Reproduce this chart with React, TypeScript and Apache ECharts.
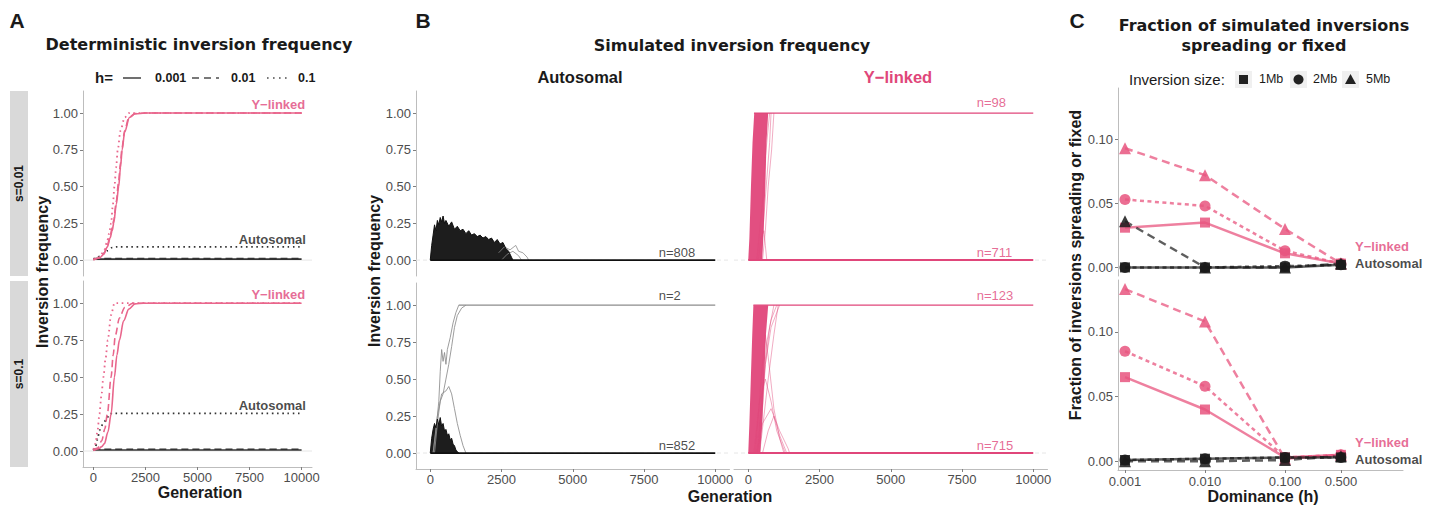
import React, { useEffect, useRef } from "react";
import * as echarts from "echarts";

const SANS = "'Liberation Sans', Arial, Helvetica, sans-serif";
const DEJAVU = "'DejaVu Sans', sans-serif";
const PINK = "#E0467A";
const PINK_LINE = "#E9668C";
const DARK = "#1A1A1A";
const AXIS_GRAY = "#BDBDBD";
const TICK_GRAY = "#7F7F7F";
const LABEL_GRAY = "#4D4D4D";

// ---------- axes ----------
const GEN_MIN = -500;
const GEN_MAX = 10500;
const GEN_TICKS = [0, 2500, 5000, 7500, 10000];
const FREQ_MIN = -0.108;
const FREQ_MAX = 1.15;
const FREQ_TICKS = [0, 0.25, 0.5, 0.75, 1];
const H_VALUES = [0.001, 0.01, 0.1, 0.5];
const FRAC_TICKS = [0, 0.05, 0.1];
const FRAC_MIN = -0.0067;
const FRAC_MAX = 0.14;
const LOGH_MIN = -3.0875;
const LOGH_MAX = 0.475;

// ---------- Panel A: deterministic trajectories [generation, frequency] ----------
const A_S001_Y_H0001 = [[0, 0.003], [300, 0.015], [500, 0.04], [670, 0.09], [800, 0.15], [900, 0.2], [975, 0.25], [1100, 0.38], [1215, 0.5], [1300, 0.63], [1380, 0.75], [1500, 0.87], [1730, 0.97], [2000, 0.995], [2500, 1], [10000, 1]];
const A_S001_Y_H001 = [[0, 0.003], [300, 0.016], [500, 0.045], [670, 0.1], [800, 0.16], [900, 0.22], [975, 0.27], [1100, 0.4], [1200, 0.52], [1300, 0.66], [1370, 0.76], [1500, 0.88], [1700, 0.97], [2000, 0.996], [2500, 1], [10000, 1]];
const A_S001_Y_H01 = [[0, 0.004], [300, 0.02], [500, 0.06], [650, 0.12], [750, 0.18], [850, 0.25], [930, 0.37], [1010, 0.5], [1090, 0.63], [1170, 0.75], [1300, 0.88], [1500, 0.97], [1700, 1], [10000, 1]];
const A_S001_A_H0001 = [[0, 0.007], [10000, 0.007]];
const A_S001_A_H001 = [[0, 0.01], [10000, 0.01]];
const A_S001_A_H01 = [[0, 0.005], [150, 0.015], [300, 0.025], [500, 0.045], [700, 0.065], [900, 0.085], [1100, 0.09], [10000, 0.09]];

const A_S01_Y_H0001 = [[0, 0.004], [250, 0.015], [400, 0.03], [530, 0.05], [700, 0.13], [850, 0.25], [1010, 0.5], [1130, 0.65], [1250, 0.75], [1450, 0.88], [1700, 0.96], [2000, 0.995], [2400, 1], [10000, 1]];
const A_S01_Y_H001 = [[0, 0.005], [200, 0.02], [400, 0.07], [550, 0.15], [670, 0.25], [850, 0.5], [950, 0.65], [1050, 0.78], [1250, 0.9], [1500, 0.97], [1900, 1], [10000, 1]];
const A_S01_Y_H01 = [[0, 0.01], [100, 0.05], [200, 0.14], [290, 0.25], [380, 0.37], [480, 0.5], [580, 0.62], [690, 0.75], [850, 0.92], [1010, 1], [10000, 1]];
const A_S01_A_H0001 = [[0, 0.007], [10000, 0.007]];
const A_S01_A_H001 = [[0, 0.012], [10000, 0.012]];
const A_S01_A_H01 = [[0, 0.005], [100, 0.03], [200, 0.08], [290, 0.14], [450, 0.18], [610, 0.21], [770, 0.25], [900, 0.255], [10000, 0.255]];

// ---------- Panel B: simulated trajectories (envelopes and visible strands) ----------
const B_AUT_S001_MASS = [[0, 0], [50, 0.1], [100, 0.17], [150, 0.24], [200, 0.2], [250, 0.27], [300, 0.24], [350, 0.29], [400, 0.26], [450, 0.3], [500, 0.25], [550, 0.27], [650, 0.23], [750, 0.26], [850, 0.21], [950, 0.23], [1050, 0.2], [1150, 0.21], [1250, 0.18], [1350, 0.2], [1450, 0.17], [1550, 0.18], [1650, 0.16], [1750, 0.17], [1850, 0.15], [1950, 0.16], [2050, 0.14], [2150, 0.15], [2250, 0.12], [2350, 0.14], [2450, 0.11], [2550, 0.12], [2650, 0.08], [2750, 0.06], [2850, 0.02], [2900, 0]];
const B_AUT_S001_STRAND1 = [[2400, 0.05], [2600, 0.09], [2800, 0.07], [3000, 0.1], [3100, 0.06], [3250, 0.05], [3400, 0.02], [3450, 0]];
const B_AUT_S001_STRAND2 = [[2500, 0], [2700, 0.04], [2900, 0.06], [3100, 0.03], [3200, 0]];
const B_AUT_S01_MASS = [[0, 0], [50, 0.1], [100, 0.16], [150, 0.2], [200, 0.17], [250, 0.23], [300, 0.19], [350, 0.24], [400, 0.18], [450, 0.2], [500, 0.15], [550, 0.16], [600, 0.12], [650, 0.13], [700, 0.09], [750, 0.1], [800, 0.06], [850, 0.05], [900, 0.02], [950, 0.01], [1000, 0]];
const B_AUT_S01_FIX1 = [[100, 0], [200, 0.15], [300, 0.35], [350, 0.55], [400, 0.7], [450, 0.62], [500, 0.68], [550, 0.6], [600, 0.7], [700, 0.78], [800, 0.88], [900, 0.95], [1000, 1]];
const B_AUT_S01_FIX2 = [[150, 0], [250, 0.2], [350, 0.35], [450, 0.4], [550, 0.5], [650, 0.6], [750, 0.72], [850, 0.85], [950, 0.93], [1100, 0.98], [1250, 1]];
const B_AUT_S01_LOST = [[100, 0], [250, 0.25], [400, 0.4], [550, 0.42], [650, 0.45], [750, 0.4], [850, 0.3], [950, 0.2], [1050, 0.12], [1150, 0.05], [1250, 0]];
const B_AUT_S01_FIXED = [[1000, 1], [10000, 1]];
const B_ZERO = [[0, 0], [10000, 0]];

const B_Y_S001_CORE = [[0, 0], [40, 0.15], [95, 0.5], [150, 0.8], [210, 1], [700, 1], [640, 0.8], [600, 0.5], [540, 0.2], [490, 0]];
const B_Y_S001_STRANDS = [
  [[450, 0], [550, 0.3], [650, 0.55], [750, 0.8], [800, 1]],
  [[500, 0], [600, 0.2], [700, 0.5], [820, 0.75], [900, 1]],
  [[300, 0], [500, 0.4], [600, 0.7], [700, 0.9], [750, 1]],
  [[350, 0], [450, 0.15], [550, 0.2], [600, 0.1], [650, 0]],
];
const B_Y_S001_FIXED = [[200, 1], [10000, 1]];
const B_Y_S01_CORE = [[0, 0], [40, 0.2], [90, 0.5], [140, 0.8], [180, 1], [700, 1], [620, 0.8], [560, 0.5], [490, 0.2], [420, 0]];
const B_Y_S01_STRANDS = [
  [[300, 0], [450, 0.3], [600, 0.6], [750, 0.85], [900, 1]],
  [[400, 0], [550, 0.25], [700, 0.5], [900, 0.8], [1050, 1]],
  [[350, 0], [500, 0.4], [650, 0.75], [800, 0.9], [1000, 1]],
  [[200, 0], [400, 0.35], [600, 0.5], [800, 0.35], [1000, 0.15], [1200, 0.05], [1300, 0]],
  [[300, 0], [500, 0.2], [800, 0.3], [1100, 0.15], [1400, 0.03], [1450, 0]],
  [[250, 0], [450, 0.5], [600, 0.8], [700, 0.65], [900, 0.3], [1100, 0.1], [1250, 0]],
  [[400, 0], [600, 0.6], [800, 0.85], [1000, 0.95], [1100, 1]],
  [[500, 0], [700, 0.15], [900, 0.25], [1100, 0.12], [1350, 0]],
];
const B_Y_S01_FIXED = [[180, 1], [10000, 1]];

const B_COUNT_LABELS = ["n=808", "n=2", "n=852", "n=98", "n=711", "n=123", "n=715"];
const B_COUNT_Y = [0.05, 1.068, 0.054, 1.07, 0.055, 1.064, 0.054];

// ---------- Panel C: fraction spreading or fixed, by dominance h ----------
const C_S001_Y_1MB = [0.031, 0.035, 0.011, 0.003];
const C_S001_Y_2MB = [0.053, 0.048, 0.013, 0.003];
const C_S001_Y_5MB = [0.093, 0.072, 0.03, 0.003];
const C_S001_A_1MB = [0.0, 0.0, 0.0, 0.002];
const C_S001_A_2MB = [0.0, 0.0, 0.001, 0.002];
const C_S001_A_5MB = [0.036, 0.0, 0.0, 0.003];
const C_S01_Y_1MB = [0.065, 0.04, 0.003, 0.005];
const C_S01_Y_2MB = [0.085, 0.058, 0.003, 0.005];
const C_S01_Y_5MB = [0.133, 0.108, 0.002, 0.005];
const C_S01_A_1MB = [0.001, 0.002, 0.003, 0.003];
const C_S01_A_2MB = [0.001, 0.002, 0.003, 0.003];
const C_S01_A_5MB = [0.0, 0.0, 0.001, 0.004];

// ---------- helpers ----------
const GRIDS = [
  { left: 83, top: 91, width: 229, height: 185 },
  { left: 83, top: 281, width: 229, height: 186 },
  { left: 416, top: 91, width: 313.5, height: 185 },
  { left: 416, top: 283, width: 313.5, height: 186 },
  { left: 734, top: 91, width: 313.5, height: 185 },
  { left: 734, top: 283, width: 313.5, height: 186 },
  { left: 1118, top: 88, width: 285, height: 188 },
  { left: 1118, top: 280, width: 285, height: 190 },
];

function xGen(gridIndex: number, show: boolean) {
  return {
    type: "value", gridIndex, min: GEN_MIN, max: GEN_MAX,
    axisLine: { show, onZero: false, lineStyle: { color: AXIS_GRAY, width: 1 } },
    axisTick: { show, customValues: GEN_TICKS, length: 3, lineStyle: { color: TICK_GRAY } },
    axisLabel: { show, customValues: GEN_TICKS, margin: 4, color: LABEL_GRAY, fontSize: 13, fontFamily: SANS, formatter: (v: number) => String(v) },
    splitLine: { show: false },
  };
}
function yFreq(gridIndex: number, show: boolean) {
  return {
    type: "value", gridIndex, min: FREQ_MIN, max: FREQ_MAX,
    axisLine: { show, onZero: false, lineStyle: { color: AXIS_GRAY, width: 1 } },
    axisTick: { show, customValues: FREQ_TICKS, length: 3, lineStyle: { color: TICK_GRAY } },
    axisLabel: { show, customValues: FREQ_TICKS, margin: 5, color: LABEL_GRAY, fontSize: 13, fontFamily: SANS, formatter: (v: number) => v.toFixed(2) },
    splitLine: { show: false },
  };
}
function xH(gridIndex: number, show: boolean) {
  const ticks = H_VALUES.map((h) => Math.log10(h));
  return {
    type: "value", gridIndex, min: LOGH_MIN, max: LOGH_MAX,
    axisLine: { show, onZero: false, lineStyle: { color: AXIS_GRAY, width: 1 } },
    axisTick: { show, customValues: ticks, length: 3, lineStyle: { color: TICK_GRAY } },
    axisLabel: { show, customValues: ticks, margin: 5, color: LABEL_GRAY, fontSize: 13, fontFamily: SANS, formatter: (v: number) => Math.pow(10, v).toFixed(3) },
    splitLine: { show: false },
  };
}
function yFrac(gridIndex: number) {
  return {
    type: "value", gridIndex, min: FRAC_MIN, max: FRAC_MAX,
    axisLine: { show: true, onZero: false, lineStyle: { color: AXIS_GRAY, width: 1 } },
    axisTick: { show: true, customValues: FRAC_TICKS, length: 3, lineStyle: { color: TICK_GRAY } },
    axisLabel: { show: true, customValues: FRAC_TICKS, margin: 5, color: LABEL_GRAY, fontSize: 13, fontFamily: SANS, formatter: (v: number) => v.toFixed(2) },
    splitLine: { show: false },
  };
}

function ln(grid: number, data: number[][], color: string, o: any = {}) {
  return {
    type: "line", xAxisIndex: grid, yAxisIndex: grid, data, showSymbol: false, symbol: "none", silent: true,
    smooth: o.smooth ?? false, smoothMonotone: "x", clip: true, z: o.z ?? 2,
    lineStyle: { color, width: o.width ?? 1.5, type: o.type ?? "solid", opacity: o.opacity ?? 1, cap: o.cap ?? "butt" },
    areaStyle: o.area ? { color, opacity: o.areaOpacity ?? 1 } : undefined,
  };
}
function poly(grid: number, pts: number[][], color: string, opacity: number) {
  return {
    type: "custom", xAxisIndex: grid, yAxisIndex: grid, data: pts, silent: true, clip: true, z: 2,
    renderItem: (params: any, api: any) => {
      if (params.dataIndex !== 0) return null;
      return { type: "polygon", shape: { points: pts.map((p) => api.coord(p)) }, style: { fill: color, opacity } };
    },
  };
}
function txt(grid: number, x: number, y: number, text: string, color: string, pos: string, o: any = {}) {
  return {
    type: "scatter", xAxisIndex: grid, yAxisIndex: grid, data: [[x, y]], symbolSize: 1, silent: true, z: 10,
    itemStyle: { color: "rgba(0,0,0,0)" },
    label: { show: true, position: pos, distance: 0, formatter: text, color, fontSize: o.fontSize ?? 13, fontWeight: o.bold ? "bold" : "normal", fontFamily: SANS },
  };
}
function cLine(grid: number, vals: number[], color: string, symbol: string, size: number, dash: any, lineOpacity: number) {
  return {
    type: "line", xAxisIndex: grid, yAxisIndex: grid, silent: true, clip: false, z: 3,
    data: H_VALUES.map((h, i) => [Math.log10(h), vals[i]]),
    symbol, symbolSize: size, showSymbol: true,
    itemStyle: { color, opacity: 0.85 },
    lineStyle: { color, width: 2.5, type: dash, opacity: lineOpacity },
  };
}

const SOLID = "solid";
const DASH = [7, 4];
const DOT = [1.6, 3.6];

function buildOption() {
  const series: any[] = [];
  // faint zero reference lines
  for (const g of [0, 1, 2, 3, 4, 5]) {
    series.push(ln(g, [[GEN_MIN, 0], [GEN_MAX, 0]], "#E6E6E6", { width: 1, z: 1, type: g >= 2 ? [4, 3] : "solid" }));
  }
  // Panel A
  const aSets = [
    { g: 0, y: [A_S001_Y_H0001, A_S001_Y_H001, A_S001_Y_H01], a: [A_S001_A_H0001, A_S001_A_H001, A_S001_A_H01] },
    { g: 1, y: [A_S01_Y_H0001, A_S01_Y_H001, A_S01_Y_H01], a: [A_S01_A_H0001, A_S01_A_H001, A_S01_A_H01] },
  ];
  const styles = [SOLID, DASH, DOT];
  for (const s of aSets) {
    s.a.forEach((d, i) => series.push(ln(s.g, d, "#333333", { type: styles[i], width: i === 2 ? 1.8 : 1.6, smooth: 0.3 })));
    s.y.forEach((d, i) => series.push(ln(s.g, d, PINK_LINE, { type: styles[i], width: i === 2 ? 1.8 : 1.6, smooth: 0.3 })));
  }
  series.push(txt(0, 10200, 1.056, "Y\u2212linked", PINK, "left", { bold: true }));
  series.push(txt(0, 10230, 0.143, "Autosomal", DARK, "left", { bold: true }));
  series.push(txt(1, 10200, 1.06, "Y\u2212linked", PINK, "left", { bold: true }));
  series.push(txt(1, 10230, 0.31, "Autosomal", DARK, "left", { bold: true }));

  // Panel B autosomal
  series.push(ln(2, B_AUT_S001_STRAND1, "#8C8C8C", { width: 1, opacity: 0.8 }));
  series.push(ln(2, B_AUT_S001_STRAND2, "#8C8C8C", { width: 1, opacity: 0.8 }));
  series.push(ln(2, B_AUT_S001_MASS, "#111111", { width: 1, area: true, areaOpacity: 0.95 }));
  series.push(ln(2, B_ZERO, "#111111", { width: 1.8 }));
  series.push(ln(3, B_AUT_S01_FIX1, "#8C8C8C", { width: 1, opacity: 0.85 }));
  series.push(ln(3, B_AUT_S01_FIX2, "#8C8C8C", { width: 1, opacity: 0.85 }));
  series.push(ln(3, B_AUT_S01_LOST, "#8C8C8C", { width: 1, opacity: 0.85 }));
  series.push(ln(3, B_AUT_S01_FIXED, "#8C8C8C", { width: 1.2 }));
  series.push(ln(3, B_AUT_S01_MASS, "#111111", { width: 1, area: true, areaOpacity: 0.95 }));
  series.push(ln(3, B_ZERO, "#111111", { width: 1.8 }));
  // Panel B Y-linked
  B_Y_S001_STRANDS.forEach((d) => series.push(ln(4, d, PINK, { width: 1, opacity: 0.45 })));
  series.push(poly(4, B_Y_S001_CORE, PINK, 0.95));
  series.push(ln(4, B_Y_S001_FIXED, PINK, { width: 1.3 }));
  series.push(ln(4, B_ZERO, PINK, { width: 2 }));
  B_Y_S01_STRANDS.forEach((d) => series.push(ln(5, d, PINK, { width: 1, opacity: 0.45 })));
  series.push(poly(5, B_Y_S01_CORE, PINK, 0.95));
  series.push(ln(5, B_Y_S01_FIXED, PINK, { width: 1.3 }));
  series.push(ln(5, B_ZERO, PINK, { width: 2 }));
  const NX = 8000;
  const countGrids = [2, 3, 3, 4, 4, 5, 5];
  B_COUNT_LABELS.forEach((label, i) => {
    series.push(txt(countGrids[i], NX, B_COUNT_Y[i], label, i < 3 ? DARK : PINK, "right"));
  });

  // Panel C
  const CP = "#E8557F";
  const CB = "#1A1A1A";
  const cSets = [
    { g: 6, y: [C_S001_Y_1MB, C_S001_Y_2MB, C_S001_Y_5MB], a: [C_S001_A_1MB, C_S001_A_2MB, C_S001_A_5MB] },
    { g: 7, y: [C_S01_Y_1MB, C_S01_Y_2MB, C_S01_Y_5MB], a: [C_S01_A_1MB, C_S01_A_2MB, C_S01_A_5MB] },
  ];
  const syms = [["rect", 10], ["circle", 11], ["triangle", 12]];
  const cDash = [SOLID, [4, 3.5], [8, 5]];
  for (const s of cSets) {
    s.y.forEach((d, i) => series.push(cLine(s.g, d, CP, syms[i][0] as string, syms[i][1] as number, cDash[i], 0.75)));
    s.a.forEach((d, i) => series.push(cLine(s.g, d, CB, syms[i][0] as string, syms[i][1] as number, cDash[i], 0.7)));
  }
  series.push(txt(6, -0.13, 0.016, "Y\u2212linked", PINK, "right", { bold: true }));
  series.push(txt(6, -0.13, 0.003, "Autosomal", DARK, "right", { bold: true }));
  series.push(txt(7, -0.13, 0.0145, "Y\u2212linked", PINK, "right", { bold: true }));
  series.push(txt(7, -0.13, 0.0015, "Autosomal", DARK, "right", { bold: true }));

  const T = (x: number, y: number, text: string, o: any = {}) => ({
    type: "text", x, y, rotation: o.rot ?? 0, silent: true,
    style: {
      text, fill: o.color ?? DARK, fontSize: o.size ?? 16, fontWeight: o.bold === false ? "normal" : "bold",
      fontFamily: o.font ?? SANS, align: o.align ?? "center", verticalAlign: "middle",
    },
  });
  const L = (x1: number, x2: number, y: number, dash: any) => ({
    type: "line", silent: true, shape: { x1, y1: y, x2, y2: y },
    style: { stroke: "#4D4D4D", lineWidth: 1.6, lineDash: dash === SOLID ? null : dash },
  });
  const graphic: any[] = [
    // panel letters
    T(17, 20, "A", { size: 21 }), T(423, 20, "B", { size: 21 }), T(1077, 20, "C", { size: 21 }),
    // titles
    T(199, 44, "Deterministic inversion frequency", { font: DEJAVU, size: 16 }),
    T(732, 45, "Simulated inversion frequency", { font: DEJAVU, size: 16 }),
    T(1264, 25, "Fraction of simulated inversions", { font: DEJAVU, size: 16 }),
    T(1264, 45, "spreading or fixed", { font: DEJAVU, size: 16 }),
    // legend A
    T(95, 77, "h=", { align: "left", size: 15 }),
    L(123, 141, 78, SOLID), T(155, 78, "0.001", { align: "left", size: 12.5 }),
    L(192, 219, 78, [7, 5]), T(231, 78, "0.01", { align: "left", size: 12.5 }),
    L(267, 290, 78, [1.6, 4.4]), T(298, 78, "0.1", { align: "left", size: 12.5 }),
    // legend C
    T(1129, 79, "Inversion size:", { align: "left", size: 15, bold: false }),
    { type: "rect", silent: true, shape: { x: 1235, y: 71, width: 17, height: 17 }, style: { fill: "#F0F0F0" } },
    { type: "rect", silent: true, shape: { x: 1239, y: 75, width: 9, height: 9 }, style: { fill: "#222222" } },
    T(1259, 79, "1Mb", { align: "left", size: 12.5, bold: false }),
    { type: "rect", silent: true, shape: { x: 1290, y: 71, width: 17, height: 17 }, style: { fill: "#F0F0F0" } },
    { type: "circle", silent: true, shape: { cx: 1298.5, cy: 79.5, r: 5 }, style: { fill: "#222222" } },
    T(1313, 79, "2Mb", { align: "left", size: 12.5, bold: false }),
    { type: "rect", silent: true, shape: { x: 1342, y: 71, width: 17, height: 17 }, style: { fill: "#F0F0F0" } },
    { type: "polygon", silent: true, shape: { points: [[1350.5, 74], [1356, 84], [1345, 84]] }, style: { fill: "#222222" } },
    T(1366, 79, "5Mb", { align: "left", size: 12.5, bold: false }),
    // strips
    { type: "rect", silent: true, shape: { x: 10, y: 91, width: 18, height: 185 }, style: { fill: "#D9D9D9" } },
    { type: "rect", silent: true, shape: { x: 10, y: 281, width: 18, height: 186 }, style: { fill: "#D9D9D9" } },
    T(19, 183.5, "s=0.01", { rot: Math.PI / 2, size: 12 }),
    T(19, 374, "s=0.1", { rot: Math.PI / 2, size: 12 }),
    // axis titles
    T(42, 272, "Inversion frequency", { rot: Math.PI / 2 }),
    T(374, 271, "Inversion frequency", { rot: Math.PI / 2 }),
    T(1075, 265, "Fraction of inversions spreading or fixed", { rot: Math.PI / 2 }),
    T(200, 492, "Generation"),
    T(730, 496, "Generation"),
    T(1263, 496, "Dominance (h)"),
    // column headers B
    T(580, 77, "Autosomal", { size: 16.5 }),
    T(898, 77, "Y\u2212linked", { size: 16.5, color: PINK }),
  ];

  return {
    animation: false,
    backgroundColor: "#FFFFFF",
    textStyle: { fontFamily: SANS },
    grid: GRIDS.map((g) => ({ ...g, containLabel: false, outerBoundsMode: "none" })),
    xAxis: [
      xGen(0, false), xGen(1, true), xGen(2, false), xGen(3, true), xGen(4, false), xGen(5, true), xH(6, false), xH(7, true),
    ],
    yAxis: [
      yFreq(0, true), yFreq(1, true), yFreq(2, true), yFreq(3, true), yFreq(4, false), yFreq(5, false), yFrac(6), yFrac(7),
    ],
    series,
    graphic,
  };
}

export default function App() {
  const ref = useRef<HTMLDivElement>(null);
  useEffect(() => {
    if (!ref.current) return;
    const chart = echarts.init(ref.current, null, { renderer: "svg" });
    chart.setOption(buildOption() as any);
    return () => chart.dispose();
  }, []);
  return (
    <div
      ref={ref}
      style={{ position: "fixed", left: 0, top: 0, width: 1437, height: 506, background: "#fff" }}
    />
  );
}
